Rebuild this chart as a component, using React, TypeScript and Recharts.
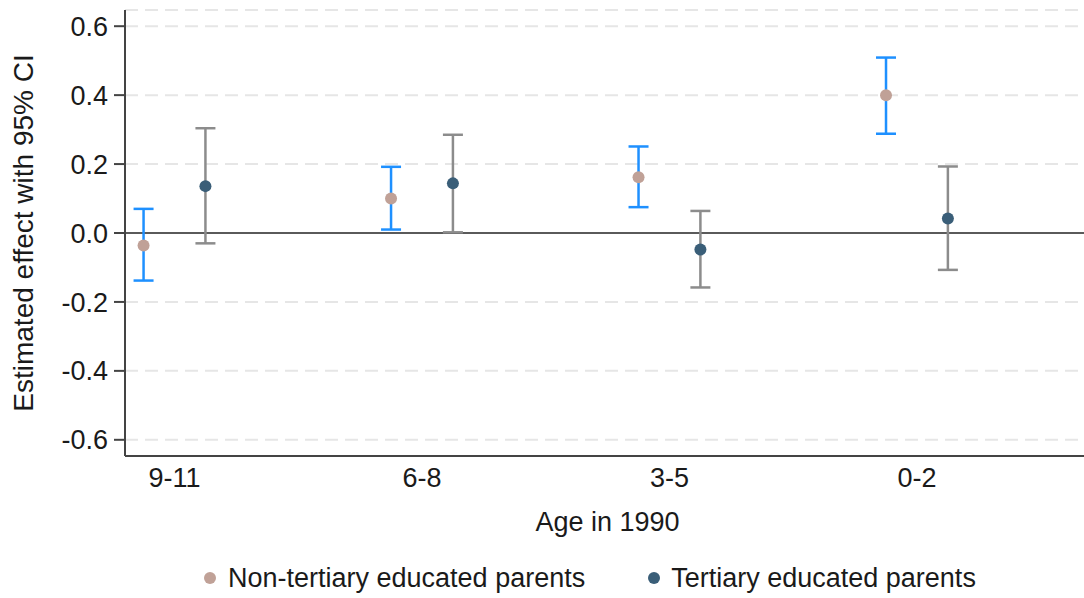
import React from 'react';
import {
  ScatterChart,
  Scatter,
  XAxis,
  YAxis,
  CartesianGrid,
  ErrorBar,
  ReferenceLine,
  Legend,
} from 'recharts';

// Age groups in 1990, left to right
const ageGroups = ['9-11', '6-8', '3-5', '0-2'];

// Non-tertiary educated parents: point estimate and 95% CI
const nonTertiaryEst = [-0.036, 0.1, 0.162, 0.4];
const nonTertiaryLow = [-0.138, 0.01, 0.075, 0.288];
const nonTertiaryHigh = [0.07, 0.192, 0.251, 0.509];

// Tertiary educated parents: point estimate and 95% CI
const tertiaryEst = [0.136, 0.144, -0.048, 0.042];
const tertiaryLow = [-0.03, 0.002, -0.158, -0.107];
const tertiaryHigh = [0.304, 0.285, 0.064, 0.193];

const yTicks = [-0.6, -0.4, -0.2, 0, 0.2, 0.4, 0.6];

const FONT = '"Liberation Sans", Arial, sans-serif';
const FS = 27;
const NON_TERT_COLOR = '#c0a197';
const TERT_COLOR = '#3a5e78';

const dodge = 0.125;

function buildSeries(est: number[], low: number[], high: number[], shift: number) {
  return ageGroups.map((label, i) => ({
    label,
    x: i + shift,
    y: est[i],
    err: [est[i] - low[i], high[i] - est[i]],
  }));
}

const nonTertiaryData = buildSeries(nonTertiaryEst, nonTertiaryLow, nonTertiaryHigh, -dodge);
const tertiaryData = buildSeries(tertiaryEst, tertiaryLow, tertiaryHigh, dodge);

const Dot = (color: string) => (props: any) => {
  const { cx, cy } = props;
  return <circle cx={cx} cy={cy} r={6} fill={color} />;
};

const LegendContent = () => (
  <div
    style={{
      display: 'flex',
      alignItems: 'center',
      height: 40,
      paddingLeft: 203,
      fontFamily: FONT,
      fontSize: FS,
      color: '#1a1a1a',
    }}
  >
    <svg width={14} height={14} style={{ marginRight: 11 }}>
      <circle cx={7} cy={7} r={6} fill={NON_TERT_COLOR} />
    </svg>
    <span>Non-tertiary educated parents</span>
    <svg width={14} height={14} style={{ marginLeft: 62, marginRight: 10 }}>
      <circle cx={7} cy={7} r={6} fill={TERT_COLOR} />
    </svg>
    <span>Tertiary educated parents</span>
  </div>
);

export default function App() {
  return (
    <div style={{ position: 'absolute', left: 0, top: 0, width: 1084, height: 598, background: '#fff' }}>
      <ScatterChart width={1084} height={598} margin={{ top: 10, right: 0, bottom: 0, left: 0 }}>
        <CartesianGrid
          vertical={false}
          stroke="#e6e6e6"
          strokeWidth={2}
          strokeDasharray="13 7"
        />
        <XAxis
          type="number"
          dataKey="x"
          domain={[-0.2, 3.675]}
          ticks={[0, 1, 2, 3]}
          tickFormatter={(v) => ageGroups[Math.round(v)]}
          height={102}
          tickLine={false}
          tickSize={6}
          tickMargin={6}
          axisLine={{ stroke: '#444', strokeWidth: 2 }}
          tick={{ fill: '#1a1a1a', fontSize: FS, fontFamily: FONT }}
          label={(props: any) => {
            const vb = props.viewBox;
            return (
              <text
                x={vb.x + vb.width / 2 + 3}
                y={531}
                textAnchor="middle"
                fill="#1a1a1a"
                fontSize={FS}
                fontFamily={FONT}
              >
                Age in 1990
              </text>
            );
          }}
        />
        <YAxis
          type="number"
          dataKey="y"
          domain={[-0.647, 0.647]}
          ticks={yTicks}
          tickFormatter={(v) => v.toFixed(1)}
          width={125}
          tickSize={11}
          tickMargin={6}
          tickLine={{ stroke: '#444', strokeWidth: 2 }}
          axisLine={{ stroke: '#444', strokeWidth: 2 }}
          tick={{ fill: '#1a1a1a', fontSize: FS, fontFamily: FONT }}
          label={(props: any) => {
            const vb = props.viewBox;
            const cy = vb.y + vb.height / 2;
            return (
              <text
                x={23}
                y={cy}
                transform={`rotate(-90, 23, ${cy})`}
                textAnchor="middle"
                dominantBaseline="central"
                fill="#1a1a1a"
                fontSize={28}
                fontFamily={FONT}
              >
                Estimated effect with 95% CI
              </text>
            );
          }}
        />
        <ReferenceLine y={0} stroke="#5a5a5a" strokeWidth={2} />
        <Legend verticalAlign="bottom" height={40} content={LegendContent} />
        <Scatter
          name="Non-tertiary educated parents"
          data={nonTertiaryData}
          fill={NON_TERT_COLOR}
          shape={Dot(NON_TERT_COLOR)}
          isAnimationActive={false}
        >
          <ErrorBar dataKey="err" direction="y" width={10} stroke="#1e90ff" strokeWidth={2.5} isAnimationActive={false} />
        </Scatter>
        <Scatter
          name="Tertiary educated parents"
          data={tertiaryData}
          fill={TERT_COLOR}
          shape={Dot(TERT_COLOR)}
          isAnimationActive={false}
        >
          <ErrorBar dataKey="err" direction="y" width={10} stroke="#8c8c8c" strokeWidth={2.5} isAnimationActive={false} />
        </Scatter>
      </ScatterChart>
    </div>
  );
}
